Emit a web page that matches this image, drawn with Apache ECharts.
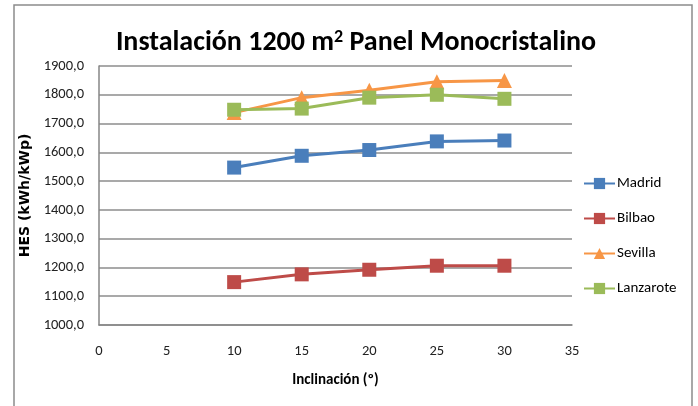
<!DOCTYPE html>
<html>
<head>
<meta charset="utf-8">
<script src="https://cdn.jsdelivr.net/npm/echarts@6/dist/echarts.min.js"></script>
<style>
  html, body { margin: 0; padding: 0; background: #fff; }
  #chart { width: 698px; height: 406px; }
</style>
</head>
<body>
<div id="chart"></div>
<script>
// Annual specific yield (HES) by panel tilt for four locations
var inclinaciones = [10, 15, 20, 25, 30];
var madrid    = [1547, 1588, 1608, 1638, 1641];
var bilbao    = [1149, 1176, 1192, 1206, 1206];
var sevilla   = [1738, 1790, 1816, 1845, 1850];
var lanzarote = [1748, 1752, 1790, 1800, 1786];
var seriesNames = ['Madrid', 'Bilbao', 'Sevilla', 'Lanzarote'];

var FONT = 'Carlito, Lato, "DejaVu Sans Condensed", sans-serif';
var WIDE_FONT = '"DejaVu Sans", Verdana, sans-serif';

function pairs(vals) {
  return inclinaciones.map(function (x, i) { return [x, vals[i]]; });
}

function lineSeries(name, vals, color, symbol, size) {
  return {
    name: name,
    type: 'line',
    data: pairs(vals),
    symbol: symbol,
    symbolSize: size,
    lineStyle: { color: color, width: 3 },
    itemStyle: { color: color },
    emphasis: { disabled: true },
    animation: false
  };
}

var chart = echarts.init(document.getElementById('chart'));
chart.setOption({
  backgroundColor: '#ffffff',
  animation: false,
  graphic: [{
    type: 'rect',
    shape: { x: 14, y: 5, width: 678, height: 420 },
    style: { fill: 'none', stroke: '#8c8c8c', lineWidth: 1.5 },
    silent: true
  }],
  title: {
    text: 'Instalación 1200 m{sup|2} Panel Monocristalino',
    left: 351,
    textAlign: 'center',
    top: 23,
    textStyle: {
      fontFamily: FONT,
      fontSize: 28,
      fontWeight: 'bold',
      color: '#000',
      rich: {
        sup: { fontFamily: FONT, fontSize: 18, fontWeight: 'bold', color: '#000', verticalAlign: 'top', padding: [0, 0, 12, 0] }
      }
    }
  },
  legend: {
    orient: 'vertical',
    left: 583,
    top: 176,
    padding: 0,
    itemGap: 20,
    itemWidth: 31,
    itemHeight: 14,
    data: seriesNames,
    textStyle: { fontFamily: FONT, fontSize: 15, color: '#000', padding: [0, 0, 0, -3] }
  },
  grid: { left: 99, right: 126, top: 66, bottom: 81, containLabel: false },
  xAxis: {
    type: 'value',
    min: 0, max: 35, interval: 5,
    name: 'Inclinación (º)',
    nameLocation: 'middle',
    nameGap: 48,
    nameTextStyle: { fontFamily: FONT, fontSize: 15, fontWeight: 'bold', color: '#000' },
    axisLine: { show: true, lineStyle: { color: '#868686', width: 1.5 } },
    axisTick: { show: false },
    splitLine: { show: false },
    axisLabel: { fontFamily: FONT, fontSize: 14.5, color: '#222', margin: 19 }
  },
  yAxis: {
    type: 'value',
    min: 1000, max: 1900, interval: 100,
    name: 'HES (kWh/kWp)',
    nameLocation: 'middle',
    nameGap: 55,
    nameRotate: 90,
    nameTextStyle: { fontFamily: WIDE_FONT, fontSize: 14, fontWeight: 'bold', color: '#000' },
    axisLine: { show: true, lineStyle: { color: '#868686', width: 1.5 } },
    axisTick: { show: false },
    splitLine: { show: true, lineStyle: { color: '#8c8c8c', width: 1.5 } },
    axisLabel: {
      fontFamily: FONT, fontSize: 14.5, color: '#222', margin: 15,
      formatter: function (v) { return v.toFixed(1).replace('.', ','); }
    }
  },
  series: [
    lineSeries('Madrid', madrid, '#4a7ebb', 'rect', 14),
    lineSeries('Bilbao', bilbao, '#be4b48', 'rect', 14),
    lineSeries('Sevilla', sevilla, '#f79646', 'triangle', 15),
    lineSeries('Lanzarote', lanzarote, '#9bbb59', 'rect', 14)
  ]
});
</script>
</body>
</html>
